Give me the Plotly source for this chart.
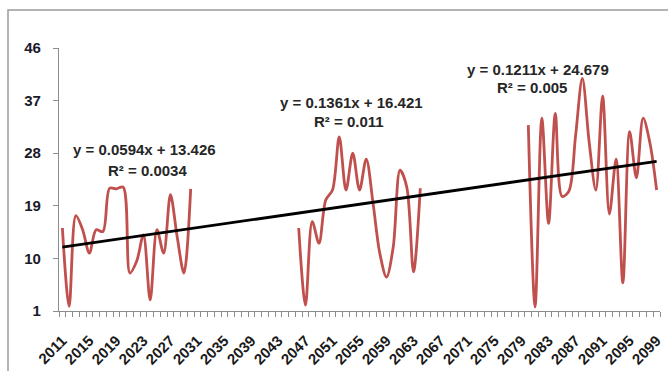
import numpy as np
import plotly.graph_objects as go

# Annual series in three observed blocks (gaps left empty)
years_1 = list(range(2011, 2031))
values_1 = [15.2, 1.8, 17.3, 14.9, 10.9, 14.9, 14.6, 22.0, 21.9, 22.2,
            7.5, 9.5, 14.0, 2.9, 14.9, 10.9, 20.9, 13.7, 7.5, 21.9]

years_2 = list(range(2046, 2065))
values_2 = [15.2, 2.0, 16.3, 12.6, 20.0, 21.7, 30.8, 21.7, 28.0, 21.7,
            27.0, 19.5, 10.9, 6.8, 12.0, 25.1, 22.2, 7.7, 22.0]

years_3 = list(range(2080, 2100))
values_3 = [32.8, 1.7, 34.0, 16.0, 34.8, 20.6, 21.5, 31.0, 40.8, 30.0,
            21.7, 37.8, 17.6, 27.0, 5.8, 31.7, 23.8, 34.0, 29.8, 21.7]

all_years = list(range(2011, 2100))
y_ticks = [1, 10, 19, 28, 37, 46]
x_tick_years = list(range(2011, 2100, 4))

equations = [
    ("y = 0.0594x + 13.426", "R² = 0.0034"),
    ("y = 0.1361x + 16.421", "R² = 0.011"),
    ("y = 0.1211x + 24.679", "R² = 0.005"),
]

# Build the full series with gaps
lookup = dict(zip(years_1 + years_2 + years_3, values_1 + values_2 + values_3))
series = [lookup.get(y) for y in all_years]

# Linear trend over all observed years
xs = np.array([y for y in all_years if y in lookup], dtype=float)
ys = np.array([lookup[int(y)] for y in xs])
slope, intercept = np.polyfit(xs, ys, 1)
trend_x = [all_years[0], all_years[-1]]
trend_y = [slope * x + intercept for x in trend_x]

fig = go.Figure()
fig.add_trace(go.Scatter(
    x=all_years, y=series, mode="lines", connectgaps=False,
    line=dict(color="#C0504D", width=2.8, shape="spline", smoothing=0.9),
    hoverinfo="x+y", showlegend=False,
))
fig.add_trace(go.Scatter(
    x=trend_x, y=trend_y, mode="lines",
    line=dict(color="#000000", width=2.8),
    showlegend=False,
))

# Equation labels placed near each block
label_pos = [((2023.2, 28.6), (2023.6, 25.1)),
             ((2053.8, 36.6), (2053.4, 33.4)),
             ((2081.5, 42.3), (2080.5, 39.2))]
eq_font = dict(family="Liberation Sans, Arial", size=15, color="#262626")
for (eq, r2), ((ex, ey), (rx, ry)) in zip(equations, label_pos):
    fig.add_annotation(x=ex, y=ey, text="<b>%s</b>" % eq, showarrow=False,
                       font=eq_font, xanchor="center", yanchor="middle")
    fig.add_annotation(x=rx, y=ry, text="<b>%s</b>" % r2, showarrow=False,
                       font=eq_font, xanchor="center", yanchor="middle")

x_tick_font = dict(family="Liberation Sans, Arial", size=15, color="#1a1a1a")
y_tick_font = dict(family="Liberation Sans, Arial", size=15, color="#1a1a2a")

fig.update_xaxes(
    range=[2010.5, 2099.5], automargin=False,
    tickmode="array", tickvals=x_tick_years,
    ticktext=["<b>%d</b>" % y for y in x_tick_years],
    tickangle=-45, ticks="", tickfont=x_tick_font, ticklabelstandoff=14,
    showline=True, linecolor="#8c8c8c", linewidth=1.2,
    showgrid=False, zeroline=False,
    minor=dict(tick0=2010.5, dtick=1, ticks="outside", ticklen=5,
               tickcolor="#8c8c8c", showgrid=False),
)
fig.update_yaxes(
    range=[1, 46], automargin=False,
    tickmode="array", tickvals=y_ticks,
    ticktext=["<b>%d</b>" % v for v in y_ticks],
    ticks="outside", ticklen=5, tickcolor="#8c8c8c",
    tickfont=y_tick_font, ticklabelstandoff=9,
    showline=True, linecolor="#8c8c8c", linewidth=1.2,
    showgrid=False, zeroline=False,
)

# Outer chart frame
l, r, t, b = 59, 8, 48, 60
W, H = 668, 371
pw, ph = W - l - r, H - t - b
fig.add_shape(type="rect", xref="paper", yref="paper",
              x0=(8 - l) / pw, x1=(W + 5 - l) / pw,
              y0=-(H + 5 - t - ph) / ph, y1=(H - 10 - b) / ph,
              line=dict(color="#9a9a9a", width=1.5), fillcolor="rgba(0,0,0,0)",
              layer="below")

fig.update_layout(
    width=W, height=H,
    margin=dict(l=l, r=r, t=t, b=b, pad=0),
    plot_bgcolor="white", paper_bgcolor="white",
    showlegend=False,
)

fig.write_html("out.html")
